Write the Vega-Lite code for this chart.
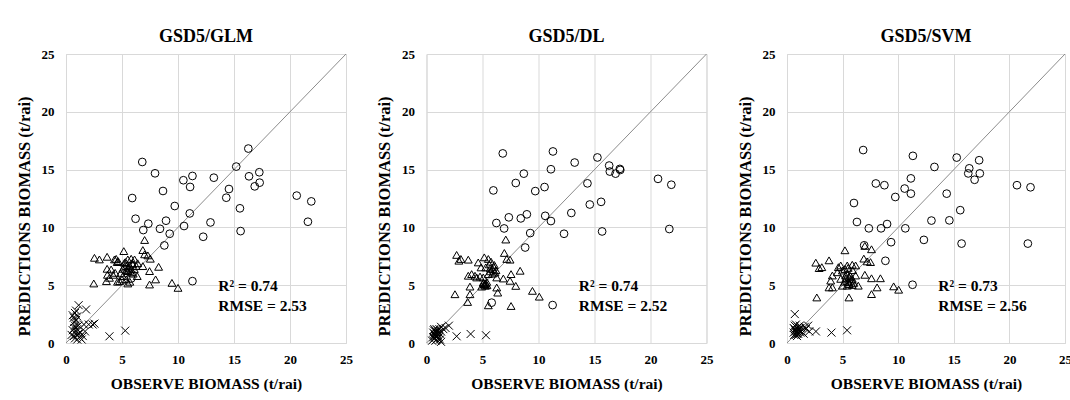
{
  "$schema": "https://vega.github.io/schema/vega-lite/v6.json",
  "background": "white",
  "padding": {"left": 15, "top": 27, "right": 0, "bottom": 0},
  "spacing": 22.5,
  "datasets": {
    "oneToOne": [{"v": 0}, {"v": 25}],
    "points": [
      {"model": "GLM", "group": "H", "obs": 6.81, "pred": 15.66},
      {"model": "GLM", "group": "H", "obs": 7.95, "pred": 14.68},
      {"model": "GLM", "group": "H", "obs": 5.91, "pred": 12.54},
      {"model": "GLM", "group": "H", "obs": 6.21, "pred": 10.75},
      {"model": "GLM", "group": "H", "obs": 8.66, "pred": 13.15},
      {"model": "GLM", "group": "H", "obs": 10.48, "pred": 14.08},
      {"model": "GLM", "group": "H", "obs": 11.29, "pred": 14.45},
      {"model": "GLM", "group": "H", "obs": 11.08, "pred": 13.5},
      {"model": "GLM", "group": "H", "obs": 13.2, "pred": 14.3},
      {"model": "GLM", "group": "H", "obs": 9.71, "pred": 11.85},
      {"model": "GLM", "group": "H", "obs": 11.05, "pred": 11.21},
      {"model": "GLM", "group": "H", "obs": 7.35, "pred": 10.32},
      {"model": "GLM", "group": "H", "obs": 8.93, "pred": 10.58},
      {"model": "GLM", "group": "H", "obs": 6.9, "pred": 9.77},
      {"model": "GLM", "group": "H", "obs": 8.39, "pred": 9.88},
      {"model": "GLM", "group": "H", "obs": 9.26, "pred": 9.45},
      {"model": "GLM", "group": "H", "obs": 10.54, "pred": 10.12},
      {"model": "GLM", "group": "H", "obs": 8.78, "pred": 8.44},
      {"model": "GLM", "group": "H", "obs": 12.9, "pred": 10.43},
      {"model": "GLM", "group": "H", "obs": 12.25, "pred": 9.19},
      {"model": "GLM", "group": "H", "obs": 11.29, "pred": 5.35},
      {"model": "GLM", "group": "H", "obs": 15.2, "pred": 15.26},
      {"model": "GLM", "group": "H", "obs": 16.28, "pred": 16.82},
      {"model": "GLM", "group": "H", "obs": 14.31, "pred": 12.57},
      {"model": "GLM", "group": "H", "obs": 14.55, "pred": 13.32},
      {"model": "GLM", "group": "H", "obs": 16.34, "pred": 14.42},
      {"model": "GLM", "group": "H", "obs": 17.26, "pred": 14.77},
      {"model": "GLM", "group": "H", "obs": 17.29, "pred": 13.87},
      {"model": "GLM", "group": "H", "obs": 16.85, "pred": 13.55},
      {"model": "GLM", "group": "H", "obs": 15.53, "pred": 11.65},
      {"model": "GLM", "group": "H", "obs": 15.59, "pred": 9.68},
      {"model": "GLM", "group": "H", "obs": 20.6, "pred": 12.75},
      {"model": "GLM", "group": "H", "obs": 21.9, "pred": 12.25},
      {"model": "GLM", "group": "H", "obs": 21.6, "pred": 10.49},
      {"model": "GLM", "group": "H", "obs": 5.82, "pred": 5.58},
      {"model": "GLM", "group": "M", "obs": 2.54, "pred": 7.37},
      {"model": "GLM", "group": "M", "obs": 2.98, "pred": 7.23},
      {"model": "GLM", "group": "M", "obs": 3.67, "pred": 7.46},
      {"model": "GLM", "group": "M", "obs": 4.48, "pred": 7.28},
      {"model": "GLM", "group": "M", "obs": 4.66, "pred": 7.08},
      {"model": "GLM", "group": "M", "obs": 5.16, "pred": 7.95},
      {"model": "GLM", "group": "M", "obs": 2.48, "pred": 5.15},
      {"model": "GLM", "group": "M", "obs": 3.67, "pred": 6.42},
      {"model": "GLM", "group": "M", "obs": 4.03, "pred": 6.36},
      {"model": "GLM", "group": "M", "obs": 3.61, "pred": 5.35},
      {"model": "GLM", "group": "M", "obs": 3.88, "pred": 5.64},
      {"model": "GLM", "group": "M", "obs": 4.33, "pred": 7.23},
      {"model": "GLM", "group": "M", "obs": 4.57, "pred": 7.0},
      {"model": "GLM", "group": "M", "obs": 4.39, "pred": 6.07},
      {"model": "GLM", "group": "M", "obs": 4.87, "pred": 6.02},
      {"model": "GLM", "group": "M", "obs": 4.78, "pred": 5.35},
      {"model": "GLM", "group": "M", "obs": 5.07, "pred": 6.42},
      {"model": "GLM", "group": "M", "obs": 5.22, "pred": 6.94},
      {"model": "GLM", "group": "M", "obs": 5.52, "pred": 7.23},
      {"model": "GLM", "group": "M", "obs": 5.82, "pred": 7.29},
      {"model": "GLM", "group": "M", "obs": 6.12, "pred": 7.23},
      {"model": "GLM", "group": "M", "obs": 5.38, "pred": 6.65},
      {"model": "GLM", "group": "M", "obs": 5.67, "pred": 6.71},
      {"model": "GLM", "group": "M", "obs": 5.97, "pred": 6.8},
      {"model": "GLM", "group": "M", "obs": 6.27, "pred": 6.65},
      {"model": "GLM", "group": "M", "obs": 5.52, "pred": 6.22},
      {"model": "GLM", "group": "M", "obs": 5.82, "pred": 6.36},
      {"model": "GLM", "group": "M", "obs": 5.07, "pred": 5.79},
      {"model": "GLM", "group": "M", "obs": 5.38, "pred": 5.5},
      {"model": "GLM", "group": "M", "obs": 5.52, "pred": 5.15},
      {"model": "GLM", "group": "M", "obs": 6.36, "pred": 5.79},
      {"model": "GLM", "group": "M", "obs": 6.86, "pred": 8.04},
      {"model": "GLM", "group": "M", "obs": 7.02, "pred": 8.91},
      {"model": "GLM", "group": "M", "obs": 7.31, "pred": 7.58},
      {"model": "GLM", "group": "M", "obs": 7.53, "pred": 7.29},
      {"model": "GLM", "group": "M", "obs": 6.86, "pred": 6.65},
      {"model": "GLM", "group": "M", "obs": 7.46, "pred": 6.22},
      {"model": "GLM", "group": "M", "obs": 8.27, "pred": 6.59},
      {"model": "GLM", "group": "M", "obs": 7.46, "pred": 5.06},
      {"model": "GLM", "group": "M", "obs": 8.0, "pred": 5.5},
      {"model": "GLM", "group": "M", "obs": 9.46, "pred": 5.2},
      {"model": "GLM", "group": "M", "obs": 10.0, "pred": 4.77},
      {"model": "GLM", "group": "M", "obs": 7.02, "pred": 7.67},
      {"model": "GLM", "group": "M", "obs": 5.2, "pred": 6.6},
      {"model": "GLM", "group": "M", "obs": 5.4, "pred": 6.3},
      {"model": "GLM", "group": "M", "obs": 5.6, "pred": 6.5},
      {"model": "GLM", "group": "M", "obs": 5.9, "pred": 6.9},
      {"model": "GLM", "group": "M", "obs": 6.0, "pred": 6.0},
      {"model": "GLM", "group": "M", "obs": 5.3, "pred": 7.0},
      {"model": "GLM", "group": "M", "obs": 5.8, "pred": 6.1},
      {"model": "GLM", "group": "M", "obs": 6.4, "pred": 6.9},
      {"model": "GLM", "group": "M", "obs": 6.1, "pred": 6.4},
      {"model": "GLM", "group": "M", "obs": 4.6, "pred": 5.3},
      {"model": "GLM", "group": "M", "obs": 5.0, "pred": 5.5},
      {"model": "GLM", "group": "M", "obs": 5.7, "pred": 5.3},
      {"model": "GLM", "group": "M", "obs": 3.7, "pred": 5.9},
      {"model": "GLM", "group": "M", "obs": 4.2, "pred": 5.9},
      {"model": "GLM", "group": "L", "obs": 0.6, "pred": 2.4},
      {"model": "GLM", "group": "L", "obs": 0.7, "pred": 2.2},
      {"model": "GLM", "group": "L", "obs": 0.8, "pred": 2.6},
      {"model": "GLM", "group": "L", "obs": 0.9, "pred": 2.0},
      {"model": "GLM", "group": "L", "obs": 0.7, "pred": 1.8},
      {"model": "GLM", "group": "L", "obs": 0.8, "pred": 1.5},
      {"model": "GLM", "group": "L", "obs": 1.0, "pred": 1.2},
      {"model": "GLM", "group": "L", "obs": 0.9, "pred": 1.0},
      {"model": "GLM", "group": "L", "obs": 1.1, "pred": 0.8},
      {"model": "GLM", "group": "L", "obs": 0.7, "pred": 0.6},
      {"model": "GLM", "group": "L", "obs": 1.2, "pred": 0.5},
      {"model": "GLM", "group": "L", "obs": 1.0, "pred": 0.3},
      {"model": "GLM", "group": "L", "obs": 0.5, "pred": 0.7},
      {"model": "GLM", "group": "L", "obs": 1.3, "pred": 0.9},
      {"model": "GLM", "group": "L", "obs": 0.8, "pred": 0.4},
      {"model": "GLM", "group": "L", "obs": 1.5, "pred": 0.6},
      {"model": "GLM", "group": "L", "obs": 0.6, "pred": 1.1},
      {"model": "GLM", "group": "L", "obs": 0.9, "pred": 2.8},
      {"model": "GLM", "group": "L", "obs": 1.0, "pred": 2.3},
      {"model": "GLM", "group": "L", "obs": 0.75, "pred": 1.3},
      {"model": "GLM", "group": "L", "obs": 1.13, "pred": 3.27},
      {"model": "GLM", "group": "L", "obs": 1.79, "pred": 2.9},
      {"model": "GLM", "group": "L", "obs": 1.6, "pred": 1.6},
      {"model": "GLM", "group": "L", "obs": 2.03, "pred": 1.6},
      {"model": "GLM", "group": "L", "obs": 2.38, "pred": 1.6},
      {"model": "GLM", "group": "L", "obs": 2.54, "pred": 1.68},
      {"model": "GLM", "group": "L", "obs": 1.7, "pred": 1.0},
      {"model": "GLM", "group": "L", "obs": 3.88, "pred": 0.58},
      {"model": "GLM", "group": "L", "obs": 5.29, "pred": 1.07},
      {"model": "GLM", "group": "L", "obs": 1.4, "pred": 0.3},
      {"model": "GLM", "group": "L", "obs": 0.85, "pred": 1.9},
      {"model": "GLM", "group": "L", "obs": 0.95, "pred": 0.7},
      {"model": "GLM", "group": "L", "obs": 1.1, "pred": 1.5},
      {"model": "DL", "group": "H", "obs": 6.81, "pred": 16.4},
      {"model": "DL", "group": "H", "obs": 11.29, "pred": 16.57},
      {"model": "DL", "group": "H", "obs": 13.23, "pred": 15.61},
      {"model": "DL", "group": "H", "obs": 15.26, "pred": 16.05},
      {"model": "DL", "group": "H", "obs": 16.31, "pred": 15.35},
      {"model": "DL", "group": "H", "obs": 16.37, "pred": 14.83},
      {"model": "DL", "group": "H", "obs": 16.88, "pred": 14.65},
      {"model": "DL", "group": "H", "obs": 17.26, "pred": 15.06},
      {"model": "DL", "group": "H", "obs": 17.3, "pred": 14.97},
      {"model": "DL", "group": "H", "obs": 11.11, "pred": 15.03},
      {"model": "DL", "group": "H", "obs": 8.69, "pred": 14.65},
      {"model": "DL", "group": "H", "obs": 7.97, "pred": 13.84},
      {"model": "DL", "group": "H", "obs": 5.97, "pred": 13.2},
      {"model": "DL", "group": "H", "obs": 9.71, "pred": 13.14},
      {"model": "DL", "group": "H", "obs": 10.54, "pred": 13.49},
      {"model": "DL", "group": "H", "obs": 14.37, "pred": 13.81},
      {"model": "DL", "group": "H", "obs": 14.58, "pred": 11.98},
      {"model": "DL", "group": "H", "obs": 15.59, "pred": 12.21},
      {"model": "DL", "group": "H", "obs": 20.67, "pred": 14.2},
      {"model": "DL", "group": "H", "obs": 21.86, "pred": 13.69},
      {"model": "DL", "group": "H", "obs": 6.24, "pred": 10.38},
      {"model": "DL", "group": "H", "obs": 7.35, "pred": 10.87},
      {"model": "DL", "group": "H", "obs": 8.42, "pred": 10.78},
      {"model": "DL", "group": "H", "obs": 8.96, "pred": 11.13},
      {"model": "DL", "group": "H", "obs": 10.6, "pred": 11.0},
      {"model": "DL", "group": "H", "obs": 11.11, "pred": 10.55},
      {"model": "DL", "group": "H", "obs": 12.93, "pred": 11.25},
      {"model": "DL", "group": "H", "obs": 6.93, "pred": 9.91},
      {"model": "DL", "group": "H", "obs": 9.26, "pred": 9.51},
      {"model": "DL", "group": "H", "obs": 12.28, "pred": 9.45},
      {"model": "DL", "group": "H", "obs": 15.68, "pred": 9.65},
      {"model": "DL", "group": "H", "obs": 21.68, "pred": 9.86},
      {"model": "DL", "group": "H", "obs": 8.81, "pred": 8.26},
      {"model": "DL", "group": "H", "obs": 5.82, "pred": 3.49},
      {"model": "DL", "group": "H", "obs": 11.26, "pred": 3.28},
      {"model": "DL", "group": "M", "obs": 2.69, "pred": 7.62},
      {"model": "DL", "group": "M", "obs": 2.89, "pred": 7.12},
      {"model": "DL", "group": "M", "obs": 3.07, "pred": 7.27},
      {"model": "DL", "group": "M", "obs": 3.73, "pred": 7.21},
      {"model": "DL", "group": "M", "obs": 7.08, "pred": 8.95},
      {"model": "DL", "group": "M", "obs": 6.95, "pred": 7.79},
      {"model": "DL", "group": "M", "obs": 7.17, "pred": 7.27},
      {"model": "DL", "group": "M", "obs": 7.46, "pred": 7.21},
      {"model": "DL", "group": "M", "obs": 5.16, "pred": 7.41},
      {"model": "DL", "group": "M", "obs": 5.52, "pred": 7.27},
      {"model": "DL", "group": "M", "obs": 5.76, "pred": 7.04},
      {"model": "DL", "group": "M", "obs": 6.06, "pred": 6.75},
      {"model": "DL", "group": "M", "obs": 4.62, "pred": 6.97},
      {"model": "DL", "group": "M", "obs": 4.87, "pred": 6.54},
      {"model": "DL", "group": "M", "obs": 5.29, "pred": 6.54},
      {"model": "DL", "group": "M", "obs": 5.67, "pred": 6.45},
      {"model": "DL", "group": "M", "obs": 5.91, "pred": 6.4},
      {"model": "DL", "group": "M", "obs": 4.33, "pred": 5.82},
      {"model": "DL", "group": "M", "obs": 3.73, "pred": 5.82},
      {"model": "DL", "group": "M", "obs": 4.03, "pred": 5.96},
      {"model": "DL", "group": "M", "obs": 4.48, "pred": 5.67},
      {"model": "DL", "group": "M", "obs": 4.78, "pred": 5.75},
      {"model": "DL", "group": "M", "obs": 5.07, "pred": 5.67},
      {"model": "DL", "group": "M", "obs": 5.52, "pred": 5.96},
      {"model": "DL", "group": "M", "obs": 6.12, "pred": 6.1},
      {"model": "DL", "group": "M", "obs": 6.27, "pred": 5.67},
      {"model": "DL", "group": "M", "obs": 6.86, "pred": 5.58},
      {"model": "DL", "group": "M", "obs": 7.55, "pred": 5.96},
      {"model": "DL", "group": "M", "obs": 8.36, "pred": 6.25},
      {"model": "DL", "group": "M", "obs": 7.46, "pred": 5.38},
      {"model": "DL", "group": "M", "obs": 7.97, "pred": 4.94},
      {"model": "DL", "group": "M", "obs": 3.88, "pred": 4.88},
      {"model": "DL", "group": "M", "obs": 4.93, "pred": 4.88},
      {"model": "DL", "group": "M", "obs": 5.07, "pred": 5.23},
      {"model": "DL", "group": "M", "obs": 5.22, "pred": 5.09},
      {"model": "DL", "group": "M", "obs": 5.38, "pred": 5.29},
      {"model": "DL", "group": "M", "obs": 6.27, "pred": 4.8},
      {"model": "DL", "group": "M", "obs": 6.36, "pred": 4.36},
      {"model": "DL", "group": "M", "obs": 2.54, "pred": 4.22},
      {"model": "DL", "group": "M", "obs": 3.88, "pred": 4.22},
      {"model": "DL", "group": "M", "obs": 3.67, "pred": 3.55},
      {"model": "DL", "group": "M", "obs": 5.52, "pred": 3.26},
      {"model": "DL", "group": "M", "obs": 7.55, "pred": 3.2},
      {"model": "DL", "group": "M", "obs": 9.46, "pred": 4.51},
      {"model": "DL", "group": "M", "obs": 10.07, "pred": 4.01},
      {"model": "DL", "group": "M", "obs": 5.15, "pred": 5.05},
      {"model": "DL", "group": "M", "obs": 5.25, "pred": 4.95},
      {"model": "DL", "group": "M", "obs": 5.3, "pred": 5.15},
      {"model": "DL", "group": "M", "obs": 5.1, "pred": 5.2},
      {"model": "DL", "group": "M", "obs": 5.4, "pred": 5.0},
      {"model": "DL", "group": "M", "obs": 5.7, "pred": 6.2},
      {"model": "DL", "group": "M", "obs": 5.9, "pred": 6.0},
      {"model": "DL", "group": "M", "obs": 6.0, "pred": 6.6},
      {"model": "DL", "group": "M", "obs": 5.6, "pred": 6.8},
      {"model": "DL", "group": "M", "obs": 6.2, "pred": 6.3},
      {"model": "DL", "group": "L", "obs": 0.6, "pred": 0.5},
      {"model": "DL", "group": "L", "obs": 0.7, "pred": 0.8},
      {"model": "DL", "group": "L", "obs": 0.8, "pred": 0.6},
      {"model": "DL", "group": "L", "obs": 0.9, "pred": 0.9},
      {"model": "DL", "group": "L", "obs": 1.0, "pred": 0.7},
      {"model": "DL", "group": "L", "obs": 0.8, "pred": 1.0},
      {"model": "DL", "group": "L", "obs": 0.7, "pred": 0.4},
      {"model": "DL", "group": "L", "obs": 1.1, "pred": 0.5},
      {"model": "DL", "group": "L", "obs": 1.0, "pred": 1.1},
      {"model": "DL", "group": "L", "obs": 0.6, "pred": 0.9},
      {"model": "DL", "group": "L", "obs": 0.9, "pred": 0.3},
      {"model": "DL", "group": "L", "obs": 1.2, "pred": 0.8},
      {"model": "DL", "group": "L", "obs": 0.75, "pred": 0.7},
      {"model": "DL", "group": "L", "obs": 0.85, "pred": 0.5},
      {"model": "DL", "group": "L", "obs": 0.95, "pred": 0.6},
      {"model": "DL", "group": "L", "obs": 1.05, "pred": 0.9},
      {"model": "DL", "group": "L", "obs": 0.65, "pred": 1.1},
      {"model": "DL", "group": "L", "obs": 1.15, "pred": 1.2},
      {"model": "DL", "group": "L", "obs": 0.8, "pred": 0.2},
      {"model": "DL", "group": "L", "obs": 1.3, "pred": 1.0},
      {"model": "DL", "group": "L", "obs": 0.9, "pred": 1.2},
      {"model": "DL", "group": "L", "obs": 1.0, "pred": 0.4},
      {"model": "DL", "group": "L", "obs": 0.7, "pred": 1.2},
      {"model": "DL", "group": "L", "obs": 1.2, "pred": 0.3},
      {"model": "DL", "group": "L", "obs": 1.3, "pred": 0.1},
      {"model": "DL", "group": "L", "obs": 1.5, "pred": 1.2},
      {"model": "DL", "group": "L", "obs": 2.0, "pred": 1.5},
      {"model": "DL", "group": "L", "obs": 1.7, "pred": 1.3},
      {"model": "DL", "group": "L", "obs": 2.69, "pred": 0.58},
      {"model": "DL", "group": "L", "obs": 3.94, "pred": 0.78},
      {"model": "DL", "group": "L", "obs": 5.31, "pred": 0.67},
      {"model": "DL", "group": "L", "obs": 1.3, "pred": 1.4},
      {"model": "DL", "group": "L", "obs": 0.5, "pred": 0.2},
      {"model": "SVM", "group": "H", "obs": 6.85, "pred": 16.69},
      {"model": "SVM", "group": "H", "obs": 11.32, "pred": 16.19},
      {"model": "SVM", "group": "H", "obs": 13.26, "pred": 15.23},
      {"model": "SVM", "group": "H", "obs": 15.26, "pred": 16.04},
      {"model": "SVM", "group": "H", "obs": 16.39, "pred": 15.11},
      {"model": "SVM", "group": "H", "obs": 16.3, "pred": 14.67},
      {"model": "SVM", "group": "H", "obs": 16.87, "pred": 14.12},
      {"model": "SVM", "group": "H", "obs": 17.28, "pred": 15.81},
      {"model": "SVM", "group": "H", "obs": 17.34, "pred": 14.67},
      {"model": "SVM", "group": "H", "obs": 11.14, "pred": 14.24},
      {"model": "SVM", "group": "H", "obs": 7.99, "pred": 13.8},
      {"model": "SVM", "group": "H", "obs": 8.76, "pred": 13.65},
      {"model": "SVM", "group": "H", "obs": 10.58, "pred": 13.36},
      {"model": "SVM", "group": "H", "obs": 11.14, "pred": 12.92},
      {"model": "SVM", "group": "H", "obs": 9.74, "pred": 12.63},
      {"model": "SVM", "group": "H", "obs": 6.02, "pred": 12.11},
      {"model": "SVM", "group": "H", "obs": 14.36, "pred": 12.92},
      {"model": "SVM", "group": "H", "obs": 15.58, "pred": 11.49},
      {"model": "SVM", "group": "H", "obs": 20.68, "pred": 13.65},
      {"model": "SVM", "group": "H", "obs": 21.9, "pred": 13.47},
      {"model": "SVM", "group": "H", "obs": 6.29, "pred": 10.47},
      {"model": "SVM", "group": "H", "obs": 7.36, "pred": 9.92},
      {"model": "SVM", "group": "H", "obs": 8.46, "pred": 9.92},
      {"model": "SVM", "group": "H", "obs": 9.0, "pred": 10.29},
      {"model": "SVM", "group": "H", "obs": 10.64, "pred": 9.92},
      {"model": "SVM", "group": "H", "obs": 12.99, "pred": 10.59},
      {"model": "SVM", "group": "H", "obs": 14.6, "pred": 10.61},
      {"model": "SVM", "group": "H", "obs": 9.36, "pred": 8.72},
      {"model": "SVM", "group": "H", "obs": 12.31, "pred": 8.92},
      {"model": "SVM", "group": "H", "obs": 15.7, "pred": 8.6},
      {"model": "SVM", "group": "H", "obs": 21.66, "pred": 8.6},
      {"model": "SVM", "group": "H", "obs": 6.94, "pred": 8.45},
      {"model": "SVM", "group": "H", "obs": 8.85, "pred": 7.11},
      {"model": "SVM", "group": "H", "obs": 11.29, "pred": 5.04},
      {"model": "SVM", "group": "M", "obs": 5.21, "pred": 8.02},
      {"model": "SVM", "group": "M", "obs": 2.59, "pred": 6.95},
      {"model": "SVM", "group": "M", "obs": 2.89, "pred": 6.48},
      {"model": "SVM", "group": "M", "obs": 3.13, "pred": 6.56},
      {"model": "SVM", "group": "M", "obs": 3.78, "pred": 7.15},
      {"model": "SVM", "group": "M", "obs": 4.62, "pred": 6.56},
      {"model": "SVM", "group": "M", "obs": 4.83, "pred": 6.71},
      {"model": "SVM", "group": "M", "obs": 5.42, "pred": 6.71},
      {"model": "SVM", "group": "M", "obs": 5.87, "pred": 6.77},
      {"model": "SVM", "group": "M", "obs": 6.17, "pred": 6.71},
      {"model": "SVM", "group": "M", "obs": 4.53, "pred": 6.12},
      {"model": "SVM", "group": "M", "obs": 4.98, "pred": 6.27},
      {"model": "SVM", "group": "M", "obs": 4.08, "pred": 5.84},
      {"model": "SVM", "group": "M", "obs": 3.93, "pred": 5.4},
      {"model": "SVM", "group": "M", "obs": 3.78, "pred": 4.81},
      {"model": "SVM", "group": "M", "obs": 4.08, "pred": 4.81},
      {"model": "SVM", "group": "M", "obs": 5.27, "pred": 5.84},
      {"model": "SVM", "group": "M", "obs": 5.57, "pred": 5.69},
      {"model": "SVM", "group": "M", "obs": 5.87, "pred": 5.55},
      {"model": "SVM", "group": "M", "obs": 6.17, "pred": 5.84},
      {"model": "SVM", "group": "M", "obs": 4.83, "pred": 5.55},
      {"model": "SVM", "group": "M", "obs": 4.98, "pred": 4.96},
      {"model": "SVM", "group": "M", "obs": 5.42, "pred": 4.96},
      {"model": "SVM", "group": "M", "obs": 5.87, "pred": 5.02},
      {"model": "SVM", "group": "M", "obs": 6.41, "pred": 4.96},
      {"model": "SVM", "group": "M", "obs": 5.21, "pred": 5.31},
      {"model": "SVM", "group": "M", "obs": 5.57, "pred": 5.25},
      {"model": "SVM", "group": "M", "obs": 2.68, "pred": 3.94},
      {"model": "SVM", "group": "M", "obs": 5.57, "pred": 3.94},
      {"model": "SVM", "group": "M", "obs": 7.0, "pred": 8.4},
      {"model": "SVM", "group": "M", "obs": 7.6, "pred": 8.11},
      {"model": "SVM", "group": "M", "obs": 6.91, "pred": 7.3},
      {"model": "SVM", "group": "M", "obs": 7.21, "pred": 7.06},
      {"model": "SVM", "group": "M", "obs": 7.51, "pred": 7.0},
      {"model": "SVM", "group": "M", "obs": 7.0, "pred": 5.9},
      {"model": "SVM", "group": "M", "obs": 7.6, "pred": 5.6},
      {"model": "SVM", "group": "M", "obs": 8.4, "pred": 5.6},
      {"model": "SVM", "group": "M", "obs": 8.1, "pred": 4.81},
      {"model": "SVM", "group": "M", "obs": 7.6, "pred": 4.23},
      {"model": "SVM", "group": "M", "obs": 9.59, "pred": 4.9},
      {"model": "SVM", "group": "M", "obs": 10.04, "pred": 4.61},
      {"model": "SVM", "group": "M", "obs": 5.3, "pred": 5.6},
      {"model": "SVM", "group": "M", "obs": 5.5, "pred": 5.3},
      {"model": "SVM", "group": "M", "obs": 5.7, "pred": 5.8},
      {"model": "SVM", "group": "M", "obs": 5.4, "pred": 6.0},
      {"model": "SVM", "group": "M", "obs": 5.6, "pred": 5.1},
      {"model": "SVM", "group": "M", "obs": 5.9, "pred": 6.3},
      {"model": "SVM", "group": "M", "obs": 5.2, "pred": 6.4},
      {"model": "SVM", "group": "M", "obs": 6.0, "pred": 5.2},
      {"model": "SVM", "group": "M", "obs": 5.8, "pred": 5.4},
      {"model": "SVM", "group": "M", "obs": 5.5, "pred": 6.5},
      {"model": "SVM", "group": "L", "obs": 0.6, "pred": 0.9},
      {"model": "SVM", "group": "L", "obs": 0.7, "pred": 1.2},
      {"model": "SVM", "group": "L", "obs": 0.8, "pred": 1.0},
      {"model": "SVM", "group": "L", "obs": 0.9, "pred": 1.3},
      {"model": "SVM", "group": "L", "obs": 1.0, "pred": 0.8},
      {"model": "SVM", "group": "L", "obs": 0.8, "pred": 0.7},
      {"model": "SVM", "group": "L", "obs": 0.7, "pred": 1.5},
      {"model": "SVM", "group": "L", "obs": 1.1, "pred": 1.1},
      {"model": "SVM", "group": "L", "obs": 1.0, "pred": 1.4},
      {"model": "SVM", "group": "L", "obs": 0.6, "pred": 1.3},
      {"model": "SVM", "group": "L", "obs": 0.9, "pred": 0.6},
      {"model": "SVM", "group": "L", "obs": 1.2, "pred": 0.9},
      {"model": "SVM", "group": "L", "obs": 0.75, "pred": 1.1},
      {"model": "SVM", "group": "L", "obs": 0.85, "pred": 0.9},
      {"model": "SVM", "group": "L", "obs": 0.95, "pred": 1.0},
      {"model": "SVM", "group": "L", "obs": 1.05, "pred": 1.2},
      {"model": "SVM", "group": "L", "obs": 0.65, "pred": 0.7},
      {"model": "SVM", "group": "L", "obs": 1.15, "pred": 1.5},
      {"model": "SVM", "group": "L", "obs": 0.8, "pred": 1.6},
      {"model": "SVM", "group": "L", "obs": 1.3, "pred": 1.0},
      {"model": "SVM", "group": "L", "obs": 0.9, "pred": 0.8},
      {"model": "SVM", "group": "L", "obs": 1.0, "pred": 1.1},
      {"model": "SVM", "group": "L", "obs": 1.2, "pred": 1.3},
      {"model": "SVM", "group": "L", "obs": 1.4, "pred": 0.9},
      {"model": "SVM", "group": "L", "obs": 0.7, "pred": 2.5},
      {"model": "SVM", "group": "L", "obs": 1.9, "pred": 1.5},
      {"model": "SVM", "group": "L", "obs": 1.7, "pred": 1.2},
      {"model": "SVM", "group": "L", "obs": 2.0, "pred": 1.0},
      {"model": "SVM", "group": "L", "obs": 2.6, "pred": 1.0},
      {"model": "SVM", "group": "L", "obs": 4.0, "pred": 0.9},
      {"model": "SVM", "group": "L", "obs": 5.4, "pred": 1.1},
      {"model": "SVM", "group": "L", "obs": 1.5, "pred": 0.8},
      {"model": "SVM", "group": "L", "obs": 1.6, "pred": 1.4}
    ]
  },
  "hconcat": [
    {
      "title": "GSD5/GLM",
      "width": 280,
      "height": 289,
      "layer": [
        {
          "data": {"name": "oneToOne"},
          "mark": {"type": "line", "color": "#8c8c8c", "strokeWidth": 1},
          "encoding": {
            "x": {"field": "v", "type": "quantitative", "scale": {"domain": [0, 25], "nice": false}, "axis": {"values": [0, 5, 10, 15, 20, 25]}, "title": "OBSERVE BIOMASS (t/rai)"},
            "y": {"field": "v", "type": "quantitative", "scale": {"domain": [0, 25], "nice": false}, "axis": {"values": [0, 5, 10, 15, 20, 25]}, "title": "PREDICTIONS BIOMASS (t/rai)"}
          }
        },
        {
          "data": {"name": "points"},
          "transform": [{"filter": "datum.model === 'GLM'"}],
          "mark": {"type": "point", "filled": false, "stroke": "black", "strokeWidth": 1, "opacity": 1},
          "encoding": {
            "x": {"field": "obs", "type": "quantitative", "scale": {"domain": [0, 25], "nice": false}, "title": "OBSERVE BIOMASS (t/rai)"},
            "y": {"field": "pred", "type": "quantitative", "scale": {"domain": [0, 25], "nice": false}, "title": "PREDICTIONS BIOMASS (t/rai)"},
            "shape": {"field": "group", "type": "nominal", "scale": {"domain": ["H", "M", "L"], "range": ["circle", "triangle-up", "M-1,-1L1,1M-1,1L1,-1"]}, "legend": null},
            "size": {"field": "group", "type": "ordinal", "scale": {"domain": ["H", "M", "L"], "range": [60, 64, 25]}, "legend": null}
          }
        },
        {
          "data": {"values": [{}]},
          "mark": {"type": "text", "text": ["R² = 0.74", "RMSE = 2.53"], "align": "left", "baseline": "middle", "lineHeight": 20, "font": "Liberation Serif", "fontWeight": "bold", "fontSize": 15.5, "color": "black"},
          "encoding": {"x": {"datum": 13.6}, "y": {"datum": 4.95}}
        }
      ]
    },
    {
      "title": "GSD5/DL",
      "width": 280,
      "height": 289,
      "layer": [
        {
          "data": {"name": "oneToOne"},
          "mark": {"type": "line", "color": "#8c8c8c", "strokeWidth": 1},
          "encoding": {
            "x": {"field": "v", "type": "quantitative", "scale": {"domain": [0, 25], "nice": false}, "axis": {"values": [0, 5, 10, 15, 20, 25]}, "title": "OBSERVE BIOMASS (t/rai)"},
            "y": {"field": "v", "type": "quantitative", "scale": {"domain": [0, 25], "nice": false}, "axis": {"values": [0, 5, 10, 15, 20, 25]}, "title": "PREDICTIONS BIOMASS (t/rai)"}
          }
        },
        {
          "data": {"name": "points"},
          "transform": [{"filter": "datum.model === 'DL'"}],
          "mark": {"type": "point", "filled": false, "stroke": "black", "strokeWidth": 1, "opacity": 1},
          "encoding": {
            "x": {"field": "obs", "type": "quantitative", "scale": {"domain": [0, 25], "nice": false}, "title": "OBSERVE BIOMASS (t/rai)"},
            "y": {"field": "pred", "type": "quantitative", "scale": {"domain": [0, 25], "nice": false}, "title": "PREDICTIONS BIOMASS (t/rai)"},
            "shape": {"field": "group", "type": "nominal", "scale": {"domain": ["H", "M", "L"], "range": ["circle", "triangle-up", "M-1,-1L1,1M-1,1L1,-1"]}, "legend": null},
            "size": {"field": "group", "type": "ordinal", "scale": {"domain": ["H", "M", "L"], "range": [60, 64, 25]}, "legend": null}
          }
        },
        {
          "data": {"values": [{}]},
          "mark": {"type": "text", "text": ["R² = 0.74", "RMSE = 2.52"], "align": "left", "baseline": "middle", "lineHeight": 20, "font": "Liberation Serif", "fontWeight": "bold", "fontSize": 15.5, "color": "black"},
          "encoding": {"x": {"datum": 13.6}, "y": {"datum": 4.95}}
        }
      ]
    },
    {
      "title": "GSD5/SVM",
      "width": 278,
      "height": 289,
      "layer": [
        {
          "data": {"name": "oneToOne"},
          "mark": {"type": "line", "color": "#8c8c8c", "strokeWidth": 1},
          "encoding": {
            "x": {"field": "v", "type": "quantitative", "scale": {"domain": [0, 25], "nice": false}, "axis": {"values": [0, 5, 10, 15, 20, 25]}, "title": "OBSERVE BIOMASS (t/rai)"},
            "y": {"field": "v", "type": "quantitative", "scale": {"domain": [0, 25], "nice": false}, "axis": {"values": [0, 5, 10, 15, 20, 25]}, "title": "PREDICTIONS BIOMASS (t/rai)"}
          }
        },
        {
          "data": {"name": "points"},
          "transform": [{"filter": "datum.model === 'SVM'"}],
          "mark": {"type": "point", "filled": false, "stroke": "black", "strokeWidth": 1, "opacity": 1},
          "encoding": {
            "x": {"field": "obs", "type": "quantitative", "scale": {"domain": [0, 25], "nice": false}, "title": "OBSERVE BIOMASS (t/rai)"},
            "y": {"field": "pred", "type": "quantitative", "scale": {"domain": [0, 25], "nice": false}, "title": "PREDICTIONS BIOMASS (t/rai)"},
            "shape": {"field": "group", "type": "nominal", "scale": {"domain": ["H", "M", "L"], "range": ["circle", "triangle-up", "M-1,-1L1,1M-1,1L1,-1"]}, "legend": null},
            "size": {"field": "group", "type": "ordinal", "scale": {"domain": ["H", "M", "L"], "range": [60, 64, 25]}, "legend": null}
          }
        },
        {
          "data": {"values": [{}]},
          "mark": {"type": "text", "text": ["R² = 0.73", "RMSE = 2.56"], "align": "left", "baseline": "middle", "lineHeight": 20, "font": "Liberation Serif", "fontWeight": "bold", "fontSize": 15.5, "color": "black"},
          "encoding": {"x": {"datum": 13.6}, "y": {"datum": 4.95}}
        }
      ]
    }
  ],
  "config": {
    "view": {"stroke": "#d9d9d9", "strokeWidth": 1},
    "title": {"font": "Liberation Serif", "fontSize": 18, "fontWeight": "bold", "color": "black", "offset": 2},
    "axis": {
      "grid": true,
      "gridColor": "#d9d9d9",
      "gridWidth": 1,
      "domain": false,
      "ticks": false,
      "labelFlush": false,
      "labelFont": "Liberation Serif",
      "labelFontWeight": "bold",
      "labelFontSize": 13,
      "labelColor": "black",
      "labelPadding": 10,
      "titleFont": "Liberation Serif",
      "titleFontWeight": "bold",
      "titleFontSize": 15.5,
      "titleColor": "black",
      "titlePadding": 10
    },
    "axisY": {"titleFontSize": 16.5, "labelPadding": 12, "titlePadding": 9, "titleY": 162}
  }
}
